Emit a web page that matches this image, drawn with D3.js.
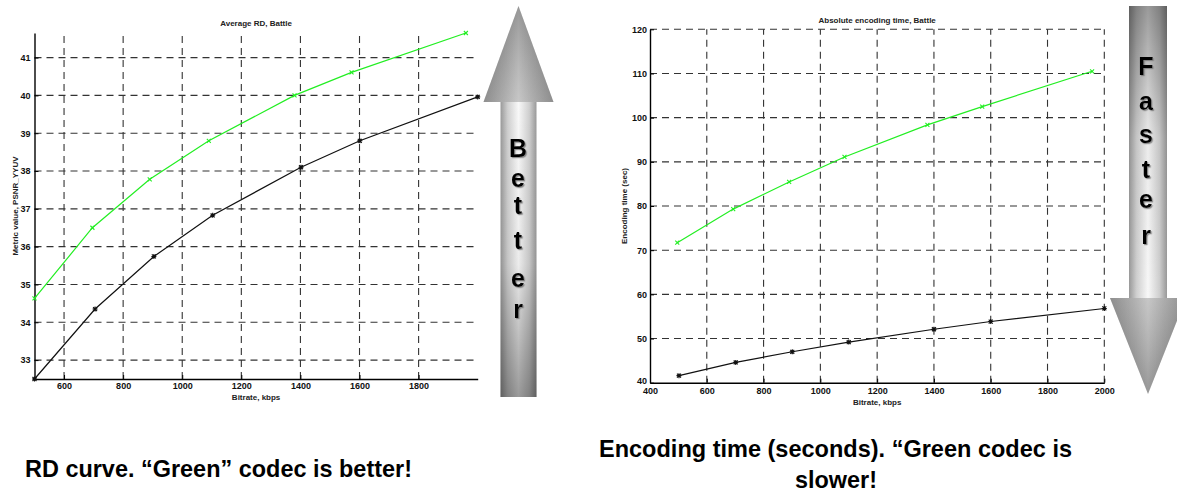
<!DOCTYPE html>
<html>
<head>
<meta charset="utf-8">
<script src="https://cdn.jsdelivr.net/npm/d3@7"></script>
<style>
  body { margin: 0; background: #fff; }
  text { font-family: "Liberation Sans", Arial, sans-serif; }
</style>
</head>
<body>
<div id="chart"></div>
<script>
// RD curve data (Bitrate kbps -> PSNR)
const rdGreenRate = [500, 696, 890, 1090, 1380, 1573, 1960];
const rdGreenPsnr = [34.63, 36.5, 37.78, 38.8, 40.0, 40.61, 41.65];
const rdBlackRate = [500, 705, 904, 1103, 1402, 1601, 2000];
const rdBlackPsnr = [32.5, 34.35, 35.74, 36.83, 38.1, 38.8, 39.96];
const rdXTicks = [600, 800, 1000, 1200, 1400, 1600, 1800];
const rdYTicks = [33, 34, 35, 36, 37, 38, 39, 40, 41];

// encoding time data (Bitrate kbps -> seconds)
const tGreenRate = [496, 693, 890, 1085, 1377, 1570, 1957];
const tGreenSec = [71.7, 79.3, 85.45, 91.1, 98.35, 102.5, 110.5];
const tBlackRate = [502, 702, 901, 1100, 1400, 1600, 2000];
const tBlackSec = [41.6, 44.6, 47.0, 49.2, 52.1, 53.85, 56.8];
const tXTicks = [400, 600, 800, 1000, 1200, 1400, 1600, 1800, 2000];
const tYTicks = [40, 50, 60, 70, 80, 90, 100, 110, 120];

const W = 1177, H = 493;
const svg = d3.select("#chart").append("svg")
    .attr("width", W).attr("height", H);
svg.append("rect").attr("width", W).attr("height", H).attr("fill", "#fff");

const defs = svg.append("defs");
function hGrad(id, stops) {
    const g = defs.append("linearGradient").attr("id", id)
        .attr("x1", "0%").attr("x2", "100%").attr("y1", "0%").attr("y2", "0%");
    stops.forEach(s => g.append("stop").attr("offset", s[0]).attr("stop-color", s[1]));
}
function vGrad(id, stops) {
    const g = defs.append("linearGradient").attr("id", id)
        .attr("x1", "0%").attr("x2", "0%").attr("y1", "0%").attr("y2", "100%");
    stops.forEach(s => g.append("stop").attr("offset", s[0]).attr("stop-color", s[1]).attr("stop-opacity", s[2]));
}
hGrad("shaftH", [["0%", "#999"], ["20%", "#cfcfcf"], ["50%", "#f8f8f8"], ["80%", "#cfcfcf"], ["100%", "#999"]]);
hGrad("headH", [["0%", "#7a7a7a"], ["30%", "#a0a0a0"], ["50%", "#bdbdbd"], ["70%", "#a0a0a0"], ["100%", "#7a7a7a"]]);
vGrad("shadeUp", [["0%", "#000", 0], ["55%", "#000", 0.05], ["100%", "#000", 0.38]]);
vGrad("shadeDown", [["0%", "#000", 0.38], ["45%", "#000", 0.05], ["100%", "#000", 0]]);
vGrad("headUp", [["0%", "#000", 0.2], ["100%", "#fff", 0.15]]);
vGrad("headDown", [["0%", "#fff", 0.15], ["100%", "#000", 0.2]]);

// soft drop shadow for the arrow letters
const shadow = defs.append("filter").attr("id", "txtShadow")
    .attr("x", "-30%").attr("y", "-30%").attr("width", "160%").attr("height", "160%");
shadow.append("feDropShadow").attr("dx", 1.2).attr("dy", 1.2).attr("stdDeviation", 0.6)
    .attr("flood-color", "#777").attr("flood-opacity", 0.8);

function drawChart(cfg) {
    const x = d3.scaleLinear().domain(cfg.xDomain).range(cfg.xRange);
    const y = d3.scaleLinear().domain(cfg.yDomain).range(cfg.yRange);
    const g = svg.append("g");

    // grid
    g.append("g").selectAll("line").data(cfg.yTicks.filter(d => d !== cfg.yDomain[0]))
        .join("line")
        .attr("x1", x(cfg.xDomain[0])).attr("x2", x(cfg.xDomain[1]))
        .attr("y1", d => y(d)).attr("y2", d => y(d))
        .attr("stroke", "#333").attr("stroke-width", 1.1).attr("stroke-dasharray", "7,5");
    g.append("g").selectAll("line").data(cfg.xTicks.filter(d => d !== cfg.xDomain[0]))
        .join("line")
        .attr("x1", d => x(d)).attr("x2", d => x(d))
        .attr("y1", y(cfg.yDomain[0])).attr("y2", y(cfg.yDomain[1]))
        .attr("stroke", "#333").attr("stroke-width", 1.1).attr("stroke-dasharray", "7,5");

    // axes
    const xAxis = g.append("g")
        .attr("transform", `translate(0,${y(cfg.yDomain[0])})`)
        .call(d3.axisBottom(x).tickValues(cfg.xTicks).tickFormat(d3.format("d"))
            .tickSizeInner(-4).tickSizeOuter(0).tickPadding(cfg.xPad));
    const yAxis = g.append("g")
        .attr("transform", `translate(${x(cfg.xDomain[0])},0)`)
        .call(d3.axisLeft(y).tickValues(cfg.yTicks).tickFormat(d3.format("d"))
            .tickSizeInner(-4).tickSizeOuter(0).tickPadding(cfg.yPad));
    [xAxis, yAxis].forEach(a => {
        a.attr("font-family", null).attr("font-size", null);
        a.select(".domain").attr("stroke", "#000").attr("stroke-width", 1.4);
        a.selectAll(".tick line").attr("stroke", "#000");
        a.selectAll(".tick text").attr("font-size", 9).attr("font-weight", "bold")
            .attr("fill", "#111");
    });
    // corner label sits a touch higher so it clears the x-axis label below it
    yAxis.selectAll(".tick text").filter(d => d === cfg.yDomain[0]).attr("dy", "0.1em");

    // series
    const line = d3.line().x(d => x(d[0])).y(d => y(d[1]));
    cfg.series.forEach(s => {
        const pts = s.xs.map((v, i) => [v, s.ys[i]]);
        g.append("path").datum(pts).attr("d", line)
            .attr("fill", "none").attr("stroke", s.color).attr("stroke-width", 1.2);
        const m = g.append("g").selectAll("g").data(pts).join("g")
            .attr("transform", d => `translate(${x(d[0])},${y(d[1])})`);
        m.append("path").attr("d", s.marker)
            .attr("stroke", s.color).attr("stroke-width", 1.1).attr("fill", "none");
    });

    // labels
    g.append("text").attr("x", (cfg.xRange[0] + cfg.xRange[1]) / 2).attr("y", cfg.titleY)
        .attr("text-anchor", "middle").attr("font-size", 8).attr("font-weight", "bold")
        .attr("fill", "#222").text(cfg.title);
    g.append("text").attr("x", (cfg.xRange[0] + cfg.xRange[1]) / 2).attr("y", cfg.xLabelY)
        .attr("text-anchor", "middle").attr("font-size", 8).attr("font-weight", "bold")
        .attr("fill", "#222").text("Bitrate, kbps");
    g.append("text")
        .attr("transform", `translate(${cfg.yLabelX},${(cfg.yRange[0] + cfg.yRange[1]) / 2}) rotate(-90)`)
        .attr("text-anchor", "middle").attr("font-size", 8).attr("font-weight", "bold")
        .attr("fill", "#222").text(cfg.yLabel);
}

const crossX = "M-2,-2L2,2M-2,2L2,-2";
const star = "M-2.5,0L2.5,0M0,-2.5L0,2.5M-2,-2L2,2M-2,2L2,-2";

drawChart({
    xDomain: [500, 2000], xRange: [34.5, 477.7],
    yDomain: [32.5, 41.65], yRange: [379, 33],
    xTicks: rdXTicks, yTicks: rdYTicks, xPad: 4, yPad: 4,
    title: "Average RD, Battle", titleY: 26,
    xLabelY: 400, yLabelX: 18, yLabel: "Metric value, PSNR_YYUV",
    series: [
        { xs: rdGreenRate, ys: rdGreenPsnr, color: "#22ee22", marker: crossX },
        { xs: rdBlackRate, ys: rdBlackPsnr, color: "#111", marker: star }
    ]
});

drawChart({
    xDomain: [400, 2000], xRange: [650, 1104.3],
    yDomain: [40, 120], yRange: [382.7, 29.3],
    xTicks: tXTicks, yTicks: tYTicks, xPad: 5, yPad: 3,
    title: "Absolute encoding time, Battle", titleY: 23,
    xLabelY: 405, yLabelX: 627, yLabel: "Encoding time (sec)",
    series: [
        { xs: tGreenRate, ys: tGreenSec, color: "#22ee22", marker: crossX },
        { xs: tBlackRate, ys: tBlackSec, color: "#111", marker: star }
    ]
});

// big gradient arrows with vertical lettering
function arrow(cfg) {
    const g = svg.append("g");
    const sx0 = cfg.cx - cfg.shaftW / 2;
    const hx0 = cfg.cx - cfg.headW / 2, hx1 = cfg.cx + cfg.headW / 2;
    const top = Math.min(cfg.shaftA, cfg.shaftB), hgt = Math.abs(cfg.shaftB - cfg.shaftA);
    g.append("rect").attr("x", sx0).attr("width", cfg.shaftW)
        .attr("y", top).attr("height", hgt).attr("fill", "url(#shaftH)");
    g.append("rect").attr("x", sx0).attr("width", cfg.shaftW)
        .attr("y", top).attr("height", hgt)
        .attr("fill", cfg.up ? "url(#shadeUp)" : "url(#shadeDown)");
    const head = `M${hx0},${cfg.headBase}L${cfg.cx},${cfg.tip}L${hx1},${cfg.headBase}Z`;
    g.append("path").attr("d", head).attr("fill", "url(#headH)");
    g.append("path").attr("d", head).attr("fill", cfg.up ? "url(#headUp)" : "url(#headDown)");
    g.append("g").attr("filter", "url(#txtShadow)")
        .selectAll("text").data(cfg.letters).join("text")
        .attr("x", cfg.tx).attr("y", (d, i) => cfg.baselines[i])
        .attr("text-anchor", "middle").attr("font-size", 25).attr("font-weight", "bold")
        .attr("fill", "#000").text(d => d);
}
arrow({ up: true, cx: 518.5, shaftW: 36, headW: 70, tip: 6, headBase: 102,
    shaftA: 101, shaftB: 397, tx: 518,
    letters: ["B", "e", "t", "t", "e", "r"], baselines: [157, 187, 214, 249, 287, 318] });
arrow({ up: false, cx: 1148, shaftW: 38, headW: 76, tip: 394, headBase: 298,
    shaftA: 6, shaftB: 299, tx: 1146,
    letters: ["F", "a", "s", "t", "e", "r"], baselines: [75, 110, 143, 178, 208, 244] });

// captions (narrow bold face in the original)
function caption(txt, cx, y, len) {
    svg.append("text").attr("x", cx - len / 2).attr("y", y)
        .attr("textLength", len).attr("lengthAdjust", "spacingAndGlyphs")
        .attr("font-size", 24).attr("font-weight", "bold").attr("fill", "#000")
        .text(txt);
}
caption("RD curve. \u201cGreen\u201d codec is better!", 218.5, 476.5, 387);
caption("Encoding time (seconds). \u201cGreen codec is", 835.5, 457, 473);
caption("slower!", 836, 487.5, 82);
</script>
</body>
</html>
